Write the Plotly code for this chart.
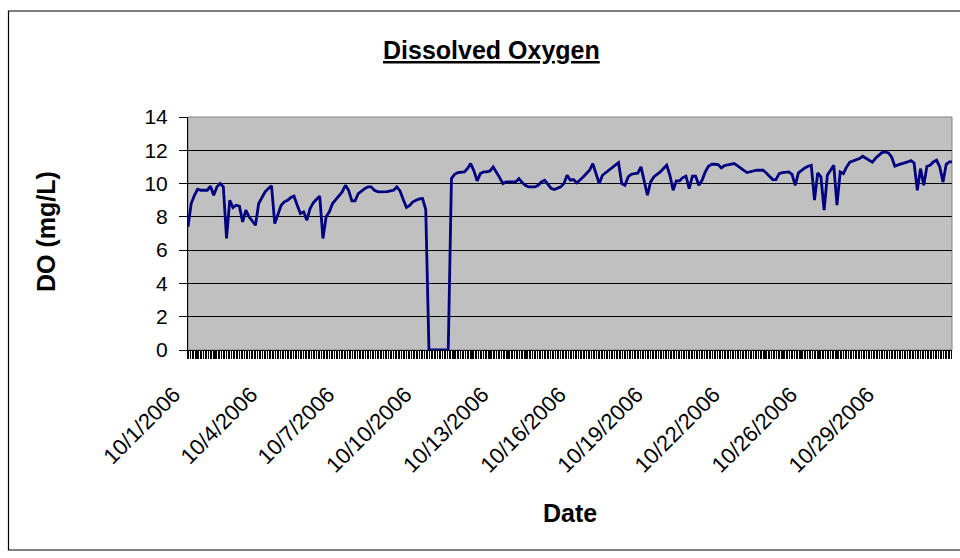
import plotly.graph_objects as go

# Category labels shown on the x axis (every 24 samples)
label_text = ["10/1/2006", "10/4/2006", "10/7/2006", "10/10/2006", "10/13/2006",
              "10/16/2006", "10/19/2006", "10/22/2006", "10/26/2006", "10/29/2006"]
samples_per_label = 24

# Dissolved oxygen readings (mg/L), one per sample
do_part1 = [7.4, 8.8, 9.3, 9.66, 9.6, 9.6, 9.6, 9.84, 9.3, 9.8,
            10.0, 9.8, 6.7, 9.0, 8.56, 8.7, 8.64, 7.7, 8.4, 8.0,
            7.76, 7.5, 8.8, 9.2, 9.5, 9.7, 9.86, 7.6, 8.2, 8.7,
            8.9, 9.0, 9.16, 9.24, 8.7, 8.2, 8.3, 7.8, 8.5, 8.84,
            9.06, 9.24, 6.7, 8.0, 8.3, 8.8, 9.04, 9.26, 9.5, 9.9,
            9.6, 8.96, 8.96, 9.4, 9.56, 9.7, 9.8, 9.8, 9.6, 9.52,
            9.5, 9.5, 9.52, 9.56, 9.6, 9.8, 9.56, 9.04, 8.56, 8.68,
            8.9, 9.0, 9.08, 9.1, 8.44, 0, 0, 0, 0, 0,
            0, 0, 10.3, 10.56, 10.66, 10.7, 10.7, 10.9]
do_part2 = [11.2, 10.76, 10.16, 10.6, 10.7, 10.7, 10.76, 11.0, 10.7, 10.36,
            10.0, 10.1, 10.1, 10.1, 10.1, 10.3, 10.06, 9.9, 9.8, 9.8,
            9.8, 9.9, 10.1, 10.2, 9.96, 9.72, 9.64, 9.7, 9.8, 10.0,
            10.5, 10.2, 10.24, 10.04, 10.2, 10.4, 10.6, 10.8, 11.2, 10.6,
            10.0, 10.5, 10.66, 10.8, 10.96, 11.1, 11.26, 10.0, 9.9, 10.4,
            10.56, 10.6, 10.62, 11.0, 10.1, 9.3, 10.1, 10.4, 10.56, 10.7,
            10.9, 11.1, 10.5, 9.6, 10.16, 10.16, 10.36, 10.44, 9.7, 10.44,
            10.44, 9.9, 10.2, 10.7, 11.04, 11.16, 11.16, 11.14, 10.94, 11.08,
            11.12, 11.18, 11.2, 11.08, 10.96, 10.8, 10.66, 10.72, 10.76, 10.8]
do_part3 = [10.8, 10.8, 10.64, 10.44, 10.24, 10.24, 10.6, 10.66, 10.7, 10.7,
            10.56, 9.9, 10.64, 10.8, 10.94, 11.04, 11.1, 9.0, 10.64, 10.4,
            8.4, 10.5, 10.84, 11.1, 8.7, 10.7, 10.6, 11.0, 11.28, 11.34,
            11.4, 11.5, 11.64, 11.52, 11.36, 11.28, 11.52, 11.7, 11.86, 11.9,
            11.84, 11.6, 11.04, 11.12, 11.2, 11.24, 11.3, 11.38, 11.24, 9.6,
            10.9, 9.9, 11.04, 11.1, 11.3, 11.4, 11.0, 10.1, 11.16, 11.3, 11.3]
do_values = do_part1 + do_part2 + do_part3
sample_index = list(range(len(do_values)))
label_index = [k * samples_per_label for k in range(len(label_text))]

FONT = "Liberation Sans, Arial, sans-serif"

W, H = 960, 558
L, R, T, B = 188, 8, 117, 208
PW, PH = W - L - R, H - T - B

def px(x):
    return (x - L) / PW

def py(y):
    return (H - B - y) / PH

fig = go.Figure()
fig.add_trace(go.Scatter(
    x=sample_index, y=do_values, mode="lines",
    line=dict(color="#000080", width=2.8),
    hoverinfo="skip", showlegend=False,
))

fig.update_layout(
    width=W, height=H,
    margin=dict(l=L, r=R, t=T, b=B, pad=0),
    paper_bgcolor="white",
    plot_bgcolor="#C0C0C0",
    font=dict(family=FONT, size=20, color="black"),
    showlegend=False,
    xaxis=dict(
        range=[0, len(do_values) - 1.2],
        tickmode="array", tickvals=label_index, ticktext=label_text,
        tickangle=-45, ticks="outside", ticklen=8, tickcolor="black",
        tickfont=dict(family=FONT, size=22, color="black"),
        ticklabelshift=-14, ticklabelstandoff=14,
        showgrid=False, zeroline=False,
        showline=True, linecolor="black", linewidth=1,
        minor=dict(ticks="outside", dtick=0.8, tick0=0, ticklen=8,
                   tickcolor="black", tickwidth=1.6, showgrid=False),
    ),
    yaxis=dict(
        range=[0, 14], tickmode="linear", tick0=0, dtick=2,
        ticks="outside", ticklen=8, tickcolor="black",
        tickfont=dict(family=FONT, size=21, color="black"),
        ticklabelstandoff=7,
        showgrid=True, gridcolor="#000000", gridwidth=1,
        zeroline=False, showline=True, linecolor="black", linewidth=1,
    ),
    shapes=[
        dict(type="rect", xref="paper", yref="paper", x0=0, x1=1, y0=0, y1=1,
             line=dict(color="#808080", width=1), layer="below"),
        # outer chart border
        dict(type="rect", xref="paper", yref="paper",
             x0=px(8.5), x1=px(990), y0=py(550), y1=py(11),
             line=dict(color="black", width=1.2), fillcolor="rgba(0,0,0,0)"),
    ],
    annotations=[
        dict(text="<b><u>Dissolved Oxygen</u></b>", xref="paper", yref="paper",
             x=px(491), y=py(50), showarrow=False, xanchor="center", yanchor="middle",
             font=dict(family=FONT, size=25, color="black")),
        dict(text="<b>DO (mg/L)</b>", xref="paper", yref="paper",
             x=px(46), y=py(232), showarrow=False, textangle=-90,
             xanchor="center", yanchor="middle",
             font=dict(family=FONT, size=25, color="black")),
        dict(text="<b>Date</b>", xref="paper", yref="paper",
             x=px(570), y=py(513), showarrow=False,
             xanchor="center", yanchor="middle",
             font=dict(family=FONT, size=25, color="black")),
    ],
)

fig.write_html(
    "out.html",
    config={"displayModeBar": False, "staticPlot": True},
    post_script="document.body.style.margin='0px';document.body.style.overflow='hidden';",
)
